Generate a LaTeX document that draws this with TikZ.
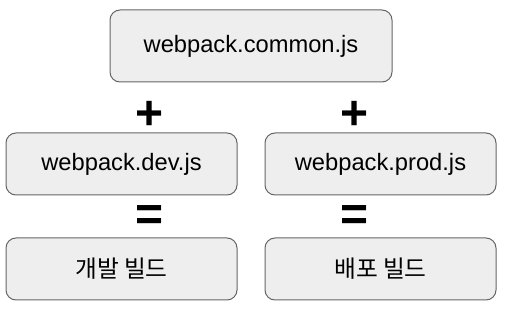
\documentclass[tikz,border=0pt]{standalone}
\usepackage{fontspec}
\setmainfont{Liberation Sans}
\newfontfamily\kofont{Noto Sans CJK KR}
\usepackage{tikz}
\usetikzlibrary{positioning}
\definecolor{boxfill}{HTML}{EEEEEE}
\definecolor{boxline}{HTML}{666666}

\tikzset{
  filebox/.style={draw=boxline, fill=boxfill, rounded corners=10pt, line width=1pt,
    minimum width=231pt, minimum height=62pt, inner sep=0pt,
    font=\fontsize{23.7}{28}\selectfont},
  opsign/.style={font=\fontsize{48}{48}\selectfont\bfseries, inner sep=0pt}
}

\begin{document}
\begin{tikzpicture}[x=1pt, y=1pt]
  \useasboundingbox (0,0) rectangle (509,-331);
  \node[filebox, minimum width=282pt, minimum height=72pt] (common) at (251,-46) {webpack.common.js};
  \node[filebox] (dev) at (121.5,-164) {webpack.dev.js};
  \node[filebox] (prod) at (380.5,-164) {webpack.prod.js};
  \node[filebox] (devbuild) at (121.5,-269) {\kofont 개발 빌드};
  \node[filebox] (prodbuild) at (380.5,-269) {\kofont 배포 빌드};
  \node[opsign] (plusdev) at (150,-115) {+};
  \node[opsign] (plusprod) at (355,-115) {+};
  \node[opsign] (eqdev) at (150,-218) {=};
  \node[opsign] (eqprod) at (355,-218) {=};
\end{tikzpicture}
\end{document}
